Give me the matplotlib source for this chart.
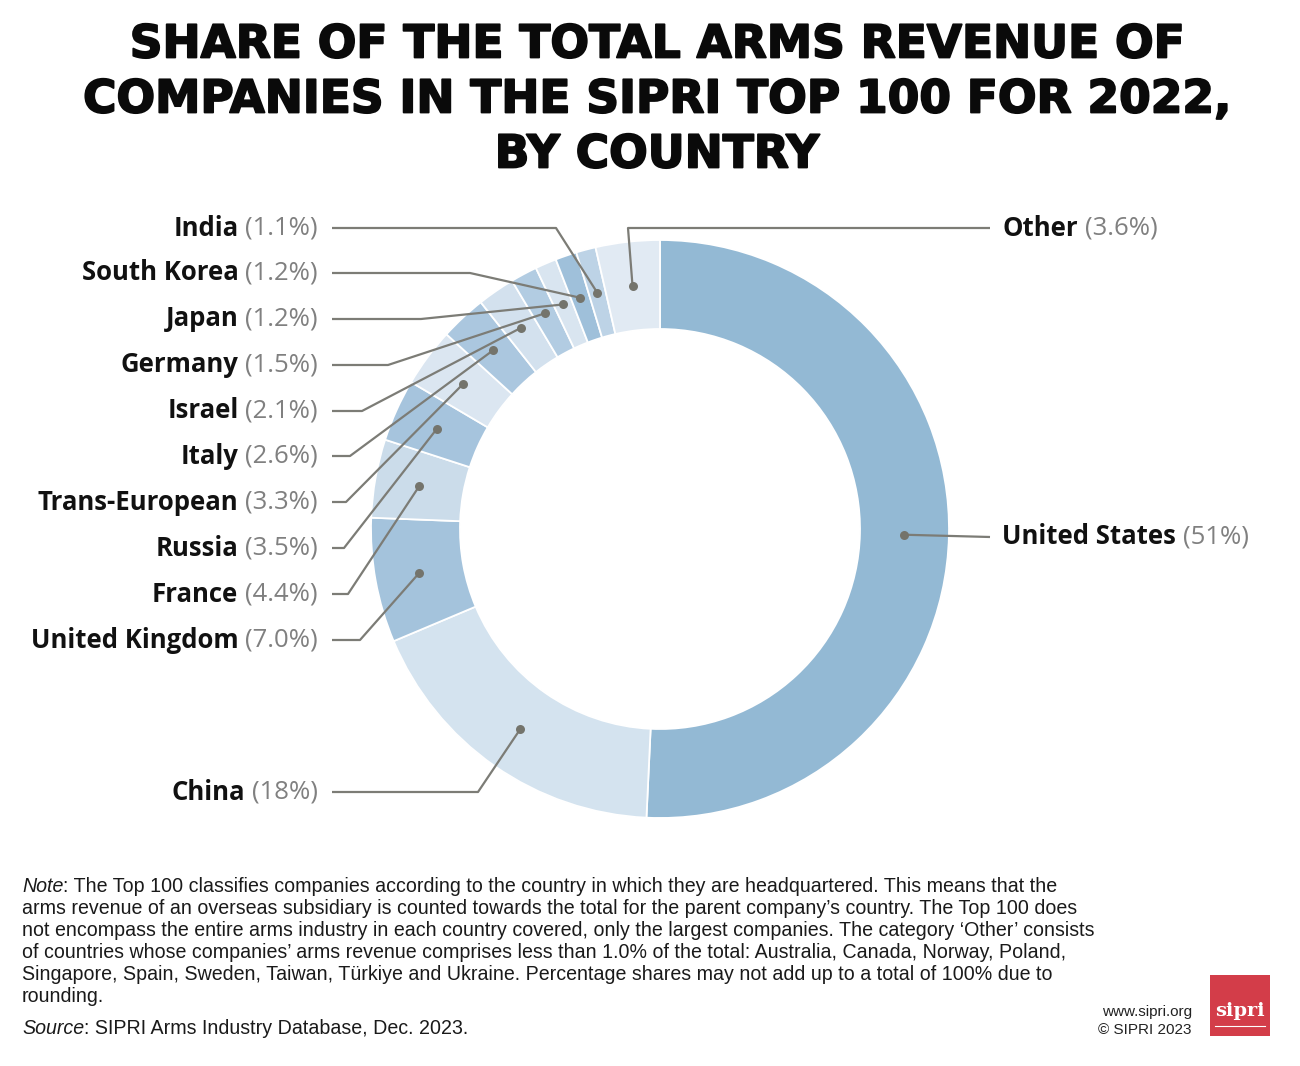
import matplotlib
matplotlib.use('Agg')
import matplotlib.pyplot as plt
import matplotlib.patheffects as pe
from matplotlib.patches import Rectangle
import numpy as np

# ---------------- data ----------------
countries = ['United States', 'China', 'United Kingdom', 'France', 'Russia',
             'Trans-European', 'Italy', 'Israel', 'Germany', 'Japan',
             'South Korea', 'India', 'Other']
shares = [51, 18, 7.0, 4.4, 3.5, 3.3, 2.6, 2.1, 1.5, 1.2, 1.2, 1.1, 3.6]
share_labels = ['51%', '18%', '7.0%', '4.4%', '3.5%', '3.3%', '2.6%', '2.1%',
                '1.5%', '1.2%', '1.2%', '1.1%', '3.6%']
colors = ['#93b9d4', '#d4e3ef', '#a4c3dc', '#cbdcea', '#a6c4dd', '#dbe6f1',
          '#abc7df', '#d3e1ee', '#b2cce2', '#d9e5f0', '#9fc0da', '#bdd3e6',
          '#e1eaf3']

title_lines = ['SHARE OF THE TOTAL ARMS REVENUE OF',
               'COMPANIES IN THE SIPRI TOP 100 FOR 2022,',
               'BY COUNTRY']
note_lines = [
    'The Top 100 classifies companies according to the country in which they are headquartered. This means that the',
    'arms revenue of an overseas subsidiary is counted towards the total for the parent company\u2019s country. The Top 100 does',
    'not encompass the entire arms industry in each country covered, only the largest companies. The category \u2018Other\u2019 consists',
    'of countries whose companies\u2019 arms revenue comprises less than 1.0% of the total: Australia, Canada, Norway, Poland,',
    'Singapore, Spain, Sweden, Taiwan, T\u00fcrkiye and Ukraine. Percentage shares may not add up to a total of 100% due to',
    'rounding.']
source_text = 'SIPRI Arms Industry Database, Dec. 2023.'

# ---------------- layout (pixel coords from top) ----------------
W, H = 1300, 1066
def Y(p):
    return H - p

label_layout = {
    # name: (side, label_y, elbow_x)
    'India': ('L', 228, 556),
    'South Korea': ('L', 273, 470),
    'Japan': ('L', 319, 421),
    'Germany': ('L', 365, 388),
    'Israel': ('L', 411, 362),
    'Italy': ('L', 456, 350),
    'Trans-European': ('L', 502, 346),
    'Russia': ('L', 548, 344),
    'France': ('L', 594, 348),
    'United Kingdom': ('L', 640, 360),
    'China': ('L', 792, 478),
    'Other': ('R', 228, 628),
    'United States': ('R', 537, None),
}

fig = plt.figure(figsize=(13, 10.66), dpi=100)
ax = fig.add_axes([0, 0, 1, 1])

cx, cy = 660, Y(529)
R, width = 289, 89
wedges, _ = ax.pie(shares, colors=colors, startangle=90, counterclock=False,
                   radius=R, center=(cx, cy),
                   wedgeprops=dict(width=width, edgecolor='white', linewidth=1.3))
ax.set_xlim(0, W)
ax.set_ylim(0, H)
ax.set_aspect('auto')
ax.axis('off')

fig.canvas.draw()
renderer = fig.canvas.get_renderer()
inv = ax.transData.inverted()

def text_width(t):
    bb = t.get_window_extent(renderer=renderer)
    p0 = inv.transform((bb.x0, bb.y0))
    p1 = inv.transform((bb.x1, bb.y1))
    return p1[0] - p0[0]

line_col = '#7c7c76'
dot_col = '#74746c'
label_fs = 18.5
name_font = 'Open Sans'

for wdg, name, lab in zip(wedges, countries, share_labels):
    ang = np.deg2rad((wdg.theta1 + wdg.theta2) / 2)
    rm = R - width / 2
    dx, dy = cx + rm * np.cos(ang), cy + rm * np.sin(ang)
    side, ly, ex = label_layout[name]
    ly = Y(ly)
    if side == 'L':
        xs = [332, ex, dx]
        ys = [ly, ly, dy]
        pt = ax.text(318, ly, '(' + lab + ')', ha='right', va='center',
                     fontsize=label_fs, color='#808080', family=name_font)
        wpt = text_width(pt)
        ax.text(318 - wpt - 7, ly, name, ha='right', va='center',
                fontsize=label_fs, color='#111111', family=name_font,
                fontweight='bold')
    else:
        if ex is None:
            xs = [990, dx]
            ys = [ly, dy]
        else:
            xs = [990, ex, dx]
            ys = [ly, ly, dy]
        nt = ax.text(1002, ly, name, ha='left', va='center',
                     fontsize=label_fs, color='#111111', family=name_font,
                     fontweight='bold')
        wnt = text_width(nt)
        ax.text(1002 + wnt + 7, ly, '(' + lab + ')', ha='left', va='center',
                fontsize=label_fs, color='#808080', family=name_font)
    ax.plot(xs, ys, color=line_col, lw=1.6, solid_capstyle='butt', zorder=5)
    ax.scatter([dx], [dy], s=42, color=dot_col, zorder=6, linewidths=0)

# ---------------- title (size fitted to the reference width) ----------------
probe = ax.text(0, 0, title_lines[1], fontsize=33, fontweight='bold',
                family='DejaVu Sans')
title_fs = 33 * 1150 / text_width(probe)
probe.remove()
for i, tl in enumerate(title_lines):
    ax.text(657, Y(45 + 55 * i), tl, ha='center', va='center', fontsize=title_fs,
            fontweight='bold', family='DejaVu Sans', color='#0a0a0a',
            path_effects=[pe.withStroke(linewidth=1.3, foreground='#0a0a0a')])

# ---------------- note ----------------
note_font = 'Liberation Sans'
probe = ax.text(0, 0, 'Note: ' + note_lines[0], fontsize=12, family=note_font)
note_fs = 12 * 1035 / text_width(probe)
probe.remove()
nt0 = ax.text(22, Y(887), 'Note', ha='left', va='center', fontsize=note_fs,
              style='italic', family=note_font, color='#1a1a1a')
wn = text_width(nt0)
ax.text(22 + wn, Y(887), ': ' + note_lines[0], ha='left', va='center',
        fontsize=note_fs, family=note_font, color='#1a1a1a')
for i, nl in enumerate(note_lines[1:]):
    ax.text(22, Y(909 + 22 * i), nl, ha='left', va='center', fontsize=note_fs,
            family=note_font, color='#1a1a1a')
st0 = ax.text(22, Y(1029), 'Source', ha='left', va='center', fontsize=note_fs,
              style='italic', family=note_font, color='#1a1a1a')
ws = text_width(st0)
ax.text(22 + ws, Y(1029), ': ' + source_text, ha='left', va='center',
        fontsize=note_fs, family=note_font, color='#1a1a1a')

# ---------------- footer / logo ----------------
ax.text(1192, Y(1012), 'www.sipri.org', ha='right', va='center', fontsize=11,
        family='Liberation Sans', color='#222222')
ax.text(1192, Y(1030), '\u00a9 SIPRI 2023', ha='right', va='center', fontsize=11,
        family='Liberation Sans', color='#222222')
ax.add_patch(Rectangle((1210, Y(1036)), 60, 61, facecolor='#d33d49',
                       edgecolor='none'))
ax.text(1240, Y(1011), 'sipri', ha='center', va='center', fontsize=14,
        fontweight='bold', family='DejaVu Serif', color='white')
ax.plot([1215, 1265], [Y(1026), Y(1026)], color='white', lw=0.8)

fig.savefig('out.png', dpi=100, facecolor='white')
